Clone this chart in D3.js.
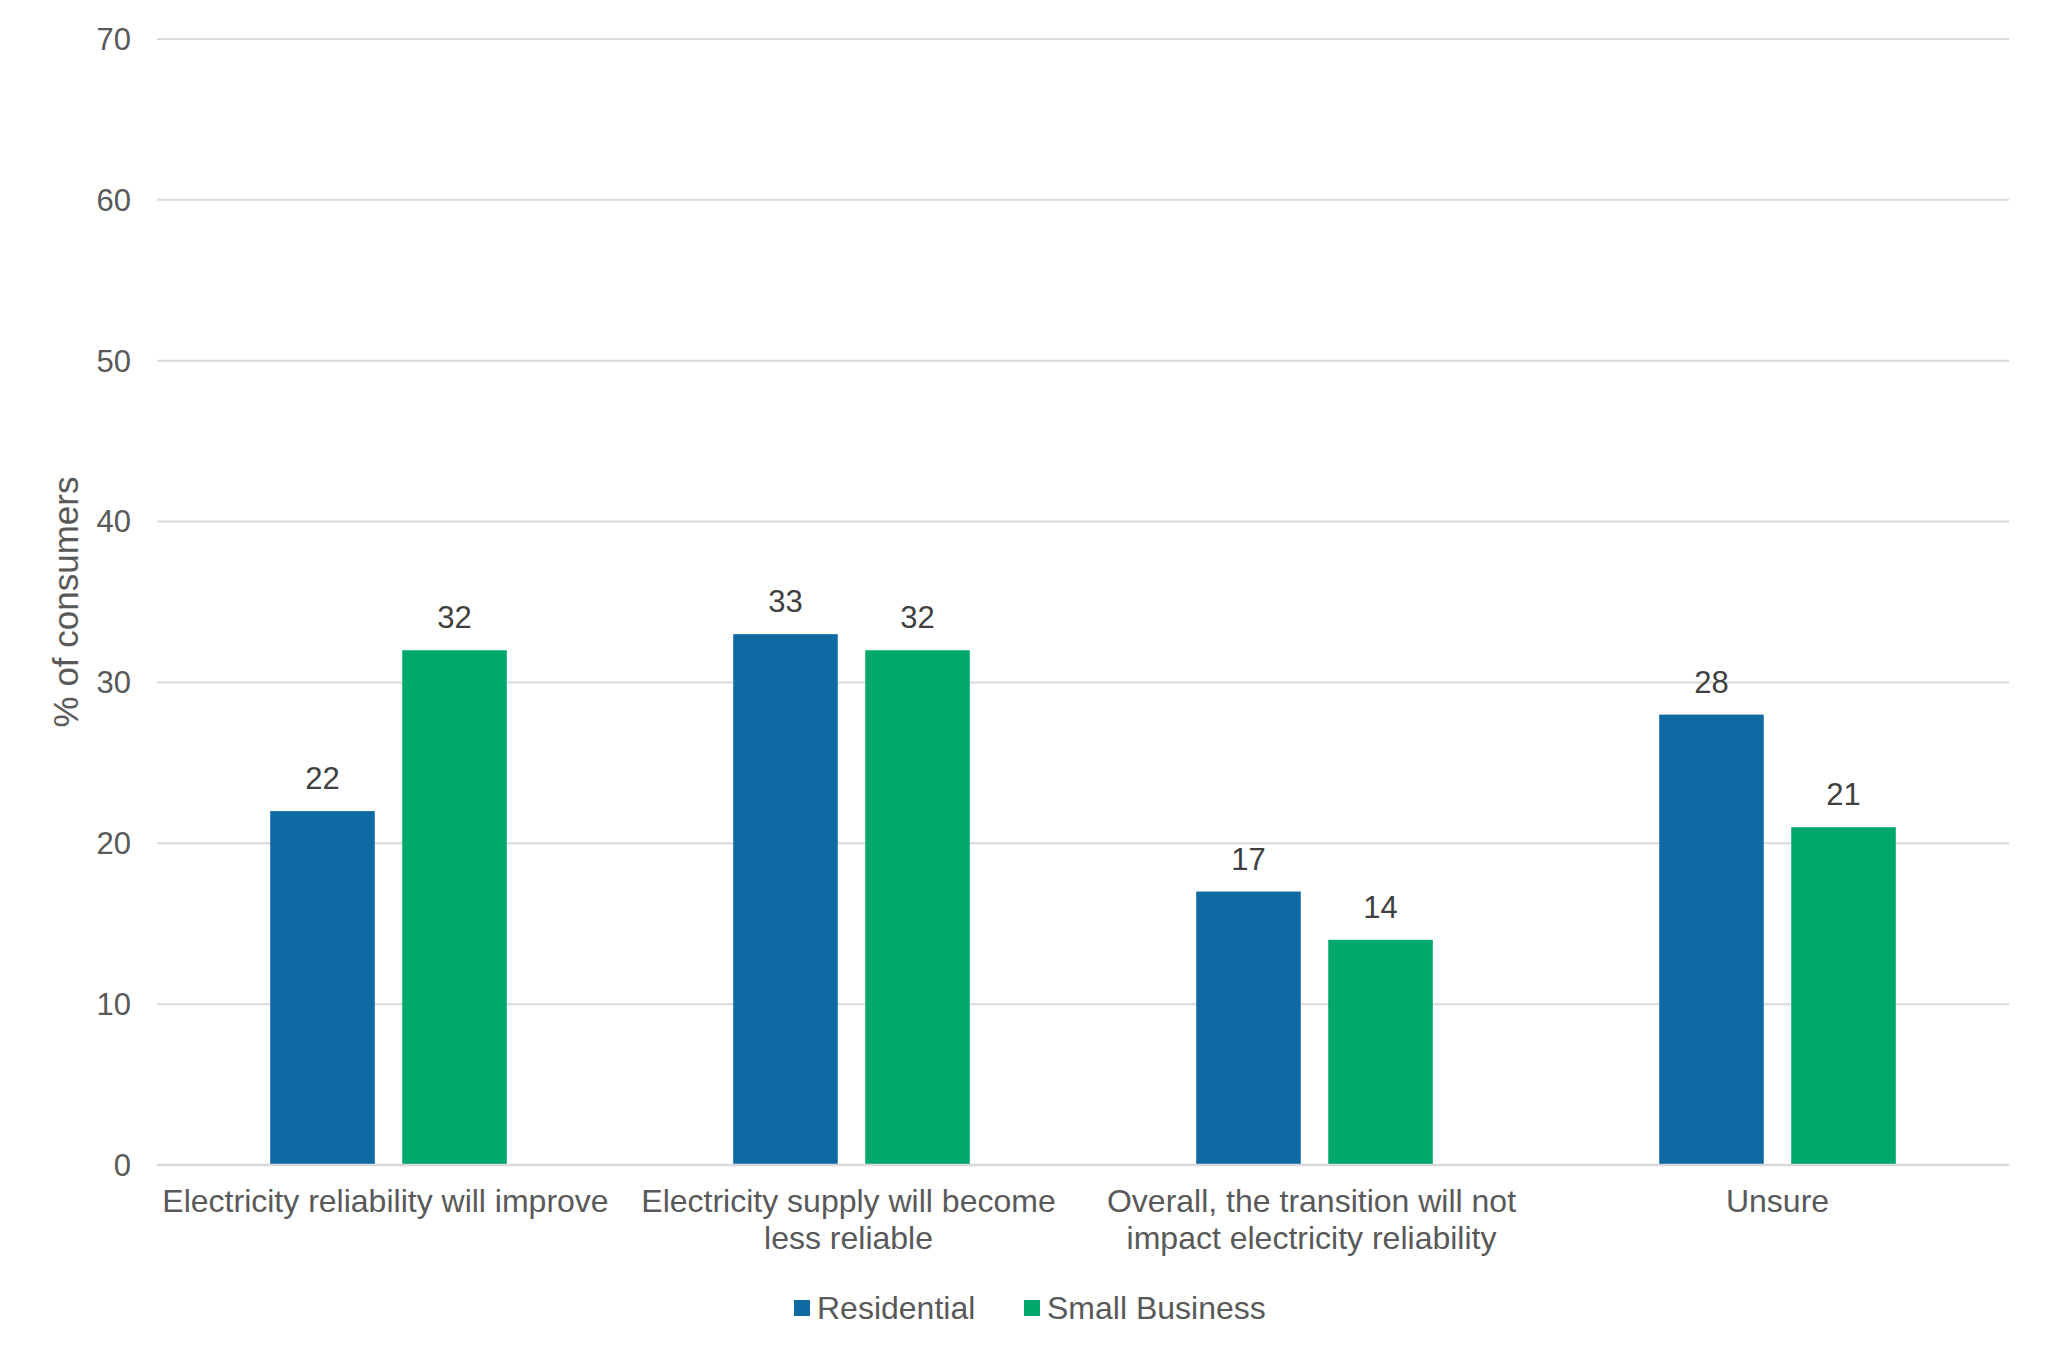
<!DOCTYPE html>
<html>
<head>
<meta charset="utf-8">
<script src="https://cdn.jsdelivr.net/npm/d3@7"></script>
<style>
  html, body { margin: 0; padding: 0; background: #ffffff; }
  svg { display: block; }
  text { font-family: "Liberation Sans", Arial, sans-serif; }
</style>
</head>
<body>
<svg id="chart" width="2048" height="1358"></svg>
<script>
const categories = [
  ["Electricity reliability will improve"],
  ["Electricity supply will become", "less reliable"],
  ["Overall, the transition will not", "impact electricity reliability"],
  ["Unsure"]
];
const seriesNames = ["Residential", "Small Business"];
const residential = [22, 33, 17, 28];
const smallBusiness = [32, 32, 14, 21];
const yTicks = [0, 10, 20, 30, 40, 50, 60, 70];
const colors = ["#0f6aa3", "#00a96b"];

const svg = d3.select("#chart");
const margin = { left: 157, right: 39, top: 39, bottom: 193 };
const W = 2048, H = 1358;

const xCat = d3.scaleBand()
  .domain(d3.range(categories.length))
  .range([margin.left, W - margin.right])
  .padding(0);
const groupWidth = xCat.bandwidth() * 0.511;
const x1 = d3.scaleBand()
  .domain(d3.range(seriesNames.length))
  .range([0, groupWidth])
  .paddingInner(0.208);

const y = d3.scaleLinear().domain([0, 70]).range([H - margin.bottom, margin.top]);

// gridlines
svg.append("g")
  .selectAll("line")
  .data(yTicks)
  .join("line")
  .attr("x1", margin.left)
  .attr("x2", W - margin.right)
  .attr("y1", d => y(d))
  .attr("y2", d => y(d))
  .attr("stroke", "#d9d9d9")
  .attr("stroke-width", 2);

// y tick labels
svg.append("g")
  .selectAll("text")
  .data(yTicks)
  .join("text")
  .attr("x", 131)
  .attr("y", d => y(d))
  .attr("dy", "0.35em")
  .attr("text-anchor", "end")
  .attr("font-size", 31)
  .attr("fill", "#595959")
  .text(d => d);

// y axis title
svg.append("text")
  .attr("transform", `translate(78, ${(y(0) + y(70)) / 2}) rotate(-90)`)
  .attr("text-anchor", "middle")
  .attr("font-size", 35)
  .attr("fill", "#595959")
  .text("% of consumers");

const series = [residential, smallBusiness];
const groups = svg.append("g")
  .selectAll("g")
  .data(categories.map((c, i) => i))
  .join("g")
  .attr("transform", i => `translate(${xCat(i) + (xCat.bandwidth() - groupWidth) / 2},0)`);

groups.selectAll("rect")
  .data(i => series.map((s, k) => ({ k, v: s[i] })))
  .join("rect")
  .attr("x", d => x1(d.k))
  .attr("width", x1.bandwidth())
  .attr("y", d => y(d.v))
  .attr("height", d => y(0) - y(d.v))
  .attr("fill", d => colors[d.k]);

groups.selectAll("text.val")
  .data(i => series.map((s, k) => ({ k, v: s[i] })))
  .join("text")
  .attr("class", "val")
  .attr("x", d => x1(d.k) + x1.bandwidth() / 2)
  .attr("y", d => y(d.v) - 22)
  .attr("text-anchor", "middle")
  .attr("font-size", 31)
  .attr("fill", "#404040")
  .text(d => d.v);

// baseline axis
svg.append("line")
  .attr("x1", margin.left)
  .attr("x2", W - margin.right)
  .attr("y1", y(0))
  .attr("y2", y(0))
  .attr("stroke", "#d9d9d9")
  .attr("stroke-width", 2.5);

// category labels
const catX = i => xCat(i) + xCat.bandwidth() / 2 - (i < 3 ? 3 : 0);
const catG = svg.append("g")
  .selectAll("text")
  .data(categories.map((c, i) => ({ c, i })))
  .join("text")
  .attr("x", d => catX(d.i))
  .attr("y", 1212)
  .attr("text-anchor", "middle")
  .attr("font-size", 32)
  .attr("fill", "#595959");
catG.selectAll("tspan")
  .data(d => d.c.map((line, j) => ({ line, j, x: catX(d.i) })))
  .join("tspan")
  .attr("x", d => d.x)
  .attr("dy", d => d.j === 0 ? 0 : 37)
  .text(d => d.line);

// legend
const legendItems = [
  { name: seriesNames[0], color: colors[0], sx: 794 },
  { name: seriesNames[1], color: colors[1], sx: 1024 }
];
const lg = svg.append("g")
  .selectAll("g")
  .data(legendItems)
  .join("g");
lg.append("rect")
  .attr("x", d => d.sx)
  .attr("y", 1300)
  .attr("width", 16)
  .attr("height", 16)
  .attr("fill", d => d.color);
lg.append("text")
  .attr("x", d => d.sx + 23)
  .attr("y", 1319)
  .attr("font-size", 32)
  .attr("fill", "#595959")
  .text(d => d.name);
</script>
</body>
</html>
